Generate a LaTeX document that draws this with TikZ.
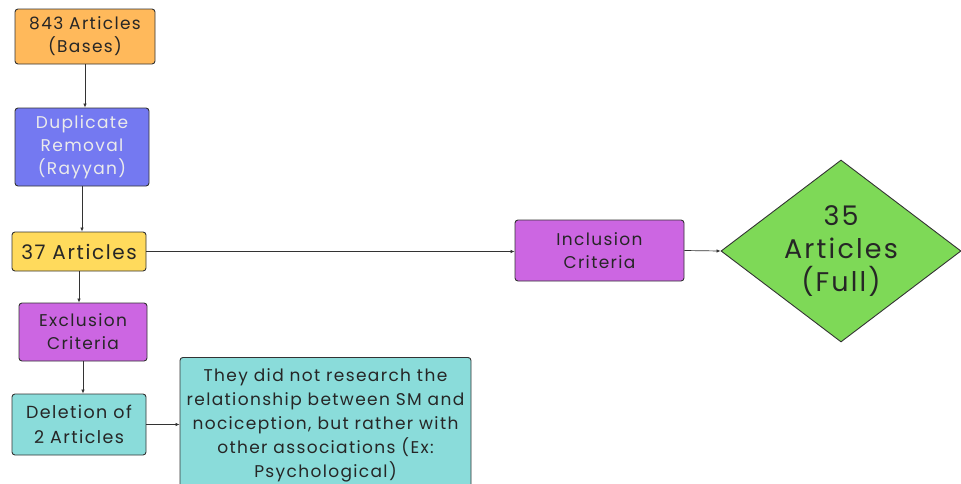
\documentclass[tikz,border=0pt]{standalone}
\usepackage{fontspec}
\setmainfont[LetterSpace=8]{Poppins}
\usepackage{tikz}
\usetikzlibrary{arrows.meta,positioning,shapes.geometric}
\definecolor{orangebox}{HTML}{FFB95B}
\definecolor{bluebox}{HTML}{7479F1}
\definecolor{yellowbox}{HTML}{FFDA5C}
\definecolor{purplebox}{HTML}{CC66E2}
\definecolor{cyanbox}{HTML}{8ADCDA}
\definecolor{greenbox}{HTML}{7ED957}
\definecolor{edge}{HTML}{333333}
\tikzset{
    box/.style={
        draw=edge,
        line width=0.9pt,
        rounded corners=3pt,
        align=center,
        inner sep=0pt,
        text=black!85,
        font=\fontsize{17}{23}\selectfont
    },
    decision/.style={
        draw=edge,
        line width=0.9pt,
        diamond,
        aspect=1.32,
        inner sep=0pt,
        align=center,
        fill=greenbox,
        text=black!85,
        font=\fontsize{27}{33}\selectfont
    },
    arrow/.style={
        -{Latex[length=4pt,width=3.5pt]},
        line width=0.7pt,
        draw=edge
    }
}
\begin{document}
\begin{tikzpicture}[x=1pt,y=-1pt]
\useasboundingbox (0,0) rectangle (961,483);

\node[box, fill=orangebox, minimum width=140pt, minimum height=55pt] (art843) at (85,36.5) {843 Articles\\(Bases)};
\node[box, fill=bluebox, text=white!92!black, minimum width=134pt, minimum height=78pt] (dup) at (82,147) {Duplicate\\Removal\\(Rayyan)};
\node[box, fill=yellowbox, minimum width=134pt, minimum height=39pt, font=\fontsize{20}{22}\selectfont] (art37) at (79,251.5) {37 Articles};
\node[box, fill=purplebox, minimum width=128pt, minimum height=58pt] (excl) at (83,332) {Exclusion\\Criteria};
\node[box, fill=cyanbox, minimum width=134pt, minimum height=61pt, font=\fontsize{17.5}{25}\selectfont] (del) at (79,424.5) {Deletion of\\2 Articles};
\node[box, fill=cyanbox, anchor=north, minimum width=291pt, minimum height=135pt, font=\fontsize{17}{24}\selectfont] (reason) at (325.5,357)
    {They did not research the\\relationship between SM and\\nociception, but rather with\\other associations (Ex:\\Psychological)};

\node[box, fill=purplebox, minimum width=169pt, minimum height=61pt] (incl) at (599.5,250.5) {Inclusion\\Criteria};
\node[decision, minimum width=240pt, minimum height=182pt] (full) at (841,251) {35\\Articles\\(Full)};

\draw[arrow] (art843.south) -- (art843.south |- dup.north);
\draw[arrow] (dup.south) -- (dup.south |- art37.north);
\draw[arrow] (art37.south) -- (art37.south |- excl.north);
\draw[arrow] (excl.south) -- (excl.south |- del.north);
\draw[arrow] (del.east) -- (del.east -| reason.west);
\draw[arrow] (art37.east) -- (art37.east -| incl.west);
\draw[arrow] (incl.east) -- (full.west);

\end{tikzpicture}
\end{document}
